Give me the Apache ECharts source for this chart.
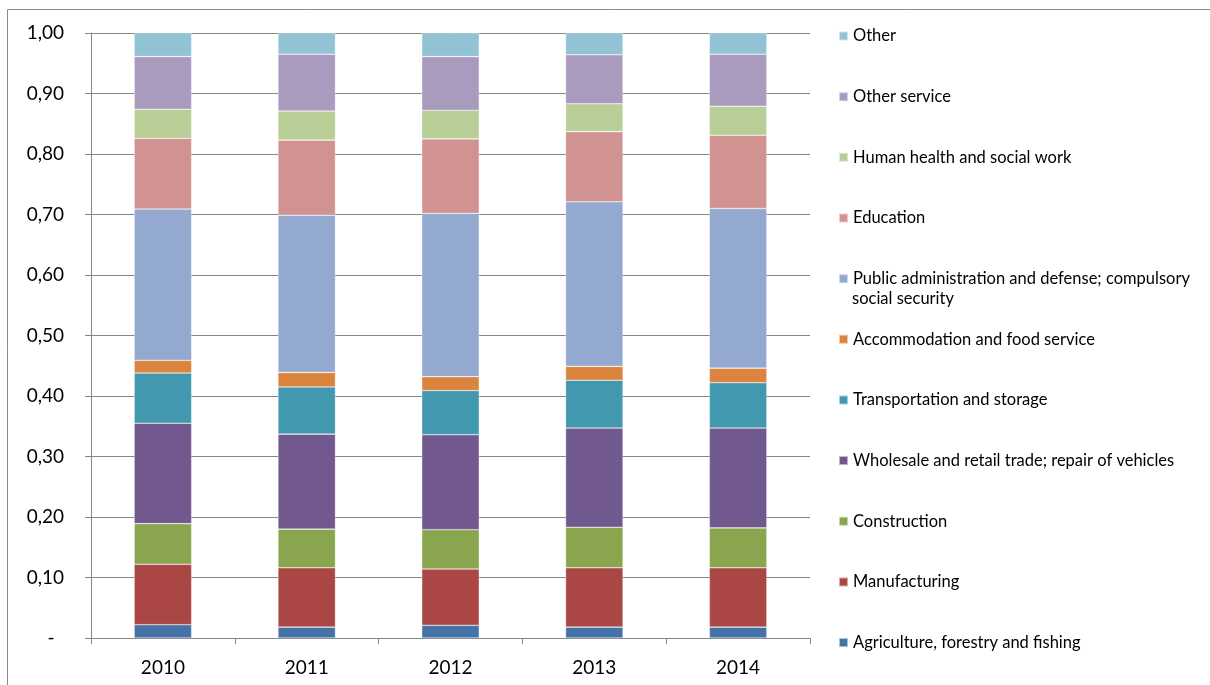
<!DOCTYPE html>
<html>
<head>
<meta charset="utf-8">
<script src="https://cdn.jsdelivr.net/npm/echarts@6/dist/echarts.min.js"></script>
<style>
html,body{margin:0;padding:0;background:#fff;}
#chart{width:1210px;height:685px;}
</style>
</head>
<body>
<div id="chart"></div>
<script>
const years = ['2010', '2011', '2012', '2013', '2014'];
const seriesNames = [
  'Agriculture, forestry and fishing',
  'Manufacturing',
  'Construction',
  'Wholesale and retail trade; repair of vehicles',
  'Transportation and storage',
  'Accommodation and food service',
  'Public administration and defense; compulsory',
  'Education',
  'Human health and social work',
  'Other service',
  'Other'
];
const agriculture   = [0.022, 0.018, 0.021, 0.018, 0.018];
const manufacturing = [0.100, 0.098, 0.093, 0.098, 0.098];
const construction  = [0.067, 0.064, 0.065, 0.067, 0.066];
const wholesale     = [0.166, 0.157, 0.157, 0.164, 0.165];
const transport     = [0.083, 0.078, 0.073, 0.079, 0.075];
const accommodation = [0.021, 0.024, 0.023, 0.023, 0.024];
const publicAdmin   = [0.250, 0.260, 0.270, 0.272, 0.264];
const education     = [0.117, 0.124, 0.123, 0.116, 0.121];
const health        = [0.048, 0.048, 0.047, 0.046, 0.048];
const otherService  = [0.087, 0.094, 0.089, 0.081, 0.086];
const other         = [0.039, 0.035, 0.039, 0.036, 0.035];
const yTickLabels = {0: '-\u2002', 0.1: '0,10', 0.2: '0,20', 0.3: '0,30', 0.4: '0,40', 0.5: '0,50',
  0.6: '0,60', 0.7: '0,70', 0.8: '0,80', 0.9: '0,90', 1: '1,00'};

const values = [agriculture, manufacturing, construction, wholesale, transport, accommodation,
  publicAdmin, education, health, otherService, other];
const colors = ['#4572A7', '#AA4643', '#89A54E', '#71588F', '#4198AF', '#DB843D',
  '#93A9CF', '#D19392', '#B9CD96', '#A99BBD', '#92C3D4'];

const FONT = 'Lato, "Liberation Sans", sans-serif';
const chart = echarts.init(document.getElementById('chart'), null, {renderer: 'canvas'});

const series = seriesNames.map((n, i) => ({
  name: n,
  type: 'bar',
  stack: 'total',
  barWidth: '40%',
  data: values[i],
  itemStyle: {color: colors[i], borderColor: 'rgba(255,255,255,0.55)', borderWidth: 0.6},
  emphasis: {disabled: true}
}));

chart.setOption({
  animation: false,
  backgroundColor: '#fff',
  color: colors,
  grid: {left: 91, right: 400, top: 33, bottom: 47, containLabel: false},
  xAxis: {
    type: 'category',
    data: years,
    axisLine: {show: true, lineStyle: {color: '#868686', width: 1}},
    axisTick: {show: true, length: 6, lineStyle: {color: '#868686'}},
    axisLabel: {color: '#000', fontSize: 19, fontFamily: FONT, margin: 20}
  },
  yAxis: {
    type: 'value',
    min: 0, max: 1, interval: 0.1,
    axisLine: {show: true, lineStyle: {color: '#868686', width: 1}},
    axisTick: {show: true, length: 6, lineStyle: {color: '#868686'}},
    splitLine: {show: true, lineStyle: {color: '#868686', width: 1}},
    axisLabel: {
      color: '#000', fontSize: 19, fontFamily: FONT, margin: 27,
      formatter: v => yTickLabels[Math.round(v * 10) / 10]
    }
  },
  legend: {
    orient: 'vertical',
    left: 838,
    top: 27,
    padding: 0,
    itemWidth: 9,
    itemHeight: 9,
    itemGap: 42.66,
    icon: 'rect',
    data: seriesNames.slice().reverse(),
    textStyle: {color: '#000', fontSize: 16.5, fontFamily: FONT, lineHeight: 18}
  },
  graphic: [
    {type: 'rect', shape: {x: 7.5, y: 9.5, width: 1400, height: 900},
     style: {fill: 'none', stroke: '#8a8a8a', lineWidth: 1}, silent: true, z: -1},
    {type: 'text', left: 852, top: 290,
     style: {text: 'social security', fill: '#000', font: '16.5px ' + FONT}}
  ],
  series: series
});
</script>
</body>
</html>
